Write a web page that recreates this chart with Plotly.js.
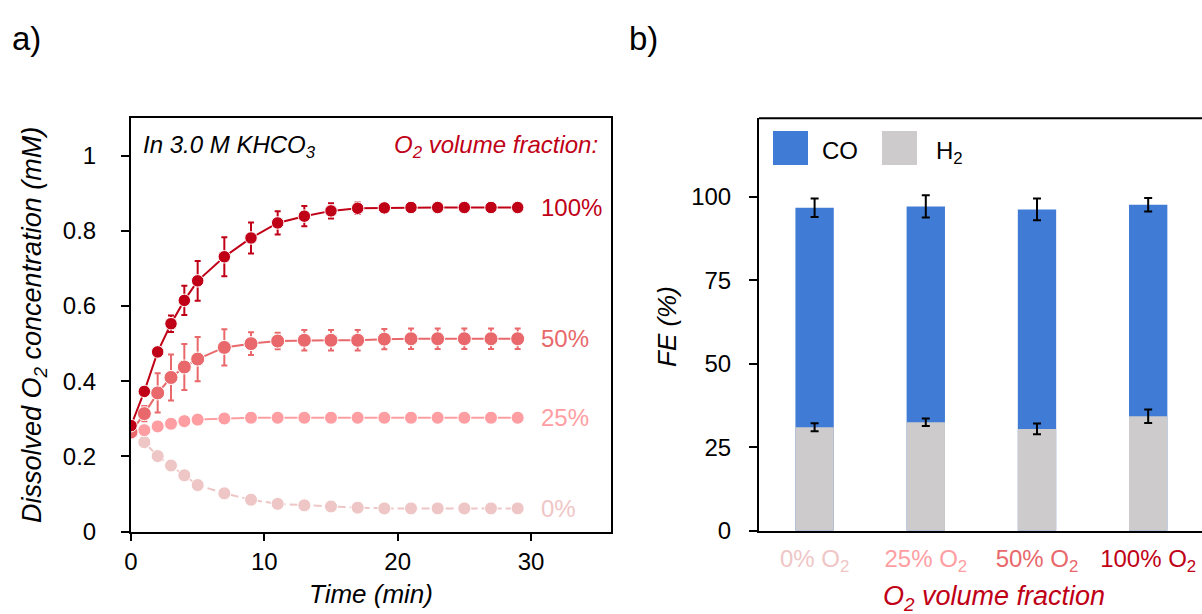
<!DOCTYPE html>
<html>
<head>
<meta charset="utf-8">
<script src="https://cdn.plot.ly/plotly-3.0.1.min.js"></script>
<style>html,body{margin:0;padding:0;background:#fff;}#chart{width:1202px;height:614px;}</style>
</head>
<body>
<div id="chart"></div>
<script>
// ---- Panel a: dissolved O2 vs time ----
const time = [0,1,2,3,4,5,7,9,11,13,15,17,19,21,23,25,27,29];
const o2_100 = [0.282,0.373,0.478,0.553,0.615,0.667,0.731,0.781,0.821,0.839,0.853,0.860,0.861,0.862,0.862,0.862,0.862,0.862];
const o2_100_err = [0.010,0.012,0.012,0.022,0.039,0.053,0.052,0.041,0.031,0.027,0.020,0.015,0.010,0.010,0.010,0.010,0.010,0.010];
const o2_50 = [0.265,0.314,0.369,0.410,0.438,0.459,0.490,0.500,0.507,0.509,0.509,0.509,0.512,0.513,0.513,0.513,0.513,0.513];
const o2_50_err = [0.010,0.020,0.052,0.061,0.061,0.059,0.048,0.030,0.022,0.027,0.027,0.027,0.027,0.027,0.027,0.027,0.027,0.027];
const o2_25 = [0.265,0.270,0.280,0.287,0.294,0.298,0.301,0.303,0.303,0.303,0.303,0.303,0.303,0.303,0.303,0.303,0.303,0.303];
const o2_0 = [0.266,0.238,0.201,0.176,0.150,0.124,0.102,0.085,0.074,0.070,0.067,0.064,0.062,0.062,0.062,0.062,0.062,0.062];
const seriesLabels = ['100%','50%','25%','0%'];
const seriesColors = ['#C00016','#E8686B','#FF9EA2','#EFC6C6'];

// ---- Panel b: Faradaic efficiency ----
const fractions = ['0% O<sub>2</sub>','25% O<sub>2</sub>','50% O<sub>2</sub>','100% O<sub>2</sub>'];
const fracColors = ['#EFC6C6','#FF9EA2','#E8686B','#C00016'];
const feH2 = [31.0, 32.5, 30.5, 34.3];
const feH2_err = [1.2, 1.1, 1.6, 2.0];
const feCO = [65.8, 64.7, 65.8, 63.4];
const feTotal_err = [2.75, 3.35, 3.25, 2.0];

const W = 1202, H = 614;
const px = x => x / W;
const py = y => 1 - y / H;
const FONT = 'Liberation Sans, Arial, sans-serif';
const BLUE = '#407CD6', GRAY = '#CDCBCB';

const lineSeries = [o2_100, o2_50, o2_25, o2_0];
const lineErrs = [o2_100_err, o2_50_err, null, null];
const markerSizes = [12.5, 14, 13, 13];
const traces = [];
// draw lightest first, darkest on top
for (let k = 3; k >= 0; k--) {
  const t = {
    type: 'scatter', mode: 'lines+markers', x: time, y: lineSeries[k],
    xaxis: 'x', yaxis: 'y', showlegend: false, name: seriesLabels[k],
    line: {color: seriesColors[k], width: 2, dash: k === 3 ? '8px,4px' : 'solid'},
    marker: {color: seriesColors[k], size: markerSizes[k], line: {color: '#fff', width: 1}}
  };
  if (lineErrs[k]) t.error_y = {type: 'data', array: lineErrs[k], visible: true, color: seriesColors[k], thickness: 2, width: 3};
  traces.push(t);
}
const feTotal = feCO.map((v, i) => v + feH2[i]);
traces.push({
  type: 'bar', x: [0,1,2,3], y: feTotal, xaxis: 'x2', yaxis: 'y2', name: 'CO', showlegend: false,
  marker: {color: BLUE, line: {width: 0}}, width: 0.345,
  error_y: {type: 'data', array: feTotal_err, visible: true, color: '#000', thickness: 2, width: 4}
});
traces.push({
  type: 'bar', x: [0,1,2,3], y: feH2, xaxis: 'x2', yaxis: 'y2', name: 'H2', showlegend: false,
  marker: {color: GRAY, line: {width: 0}}, width: 0.345,
  error_y: {type: 'data', array: feH2_err, visible: true, color: '#000', thickness: 2, width: 4}
});

const tickFont = {family: FONT, size: 24, color: '#000'};
const layout = {
  width: W, height: H, margin: {l: 0, r: 0, t: 0, b: 0},
  paper_bgcolor: '#fff', plot_bgcolor: '#fff', barmode: 'overlay', showlegend: false,
  font: {family: FONT, color: '#000'},
  xaxis: {
    domain: [px(131), px(611)], range: [0, 36], tickvals: [0,10,20,30], ticktext: ['0','10','20','30'],
    showline: true, linecolor: '#000', linewidth: 2, mirror: true, ticks: 'outside', ticklen: 7, tickwidth: 2,
    tickcolor: '#000', showgrid: false, zeroline: false, tickfont: tickFont, anchor: 'y', fixedrange: true,
    ticklabelstandoff: 0
  },
  yaxis: {
    domain: [py(531.7), py(118)], range: [0, 1.1], tickvals: [0,0.2,0.4,0.6,0.8,1], ticktext: ['0','0.2','0.4','0.6','0.8','1'],
    showline: true, linecolor: '#000', linewidth: 2, mirror: true, ticks: 'outside', ticklen: 8, tickwidth: 2,
    tickcolor: '#000', showgrid: false, zeroline: false, tickfont: tickFont, anchor: 'x', fixedrange: true,
    ticklabelstandoff: 20
  },
  xaxis2: {
    domain: [px(759), 1], range: [-0.5, 3.484], tickvals: [0,1,2,3],
    ticktext: fractions.map((f, i) => `<span style="color:${fracColors[i]}">${f}</span>`),
    showline: true, linecolor: '#000', linewidth: 2, ticks: '', showgrid: false, zeroline: false,
    tickfont: tickFont, anchor: 'y2', fixedrange: true, ticklabelstandoff: 5
  },
  yaxis2: {
    domain: [py(530.7), py(118.3)], range: [0, 123.6], tickvals: [0,25,50,75,100],
    showline: true, linecolor: '#000', linewidth: 2, ticks: 'outside', ticklen: 8, tickwidth: 2,
    tickcolor: '#000', showgrid: false, zeroline: false, tickfont: tickFont, anchor: 'x2', fixedrange: true,
    ticklabelstandoff: 13
  },
  shapes: [
    {type: 'line', xref: 'x2 domain', yref: 'y2 domain', x0: 0, x1: 1, y0: 1, y1: 1, line: {color: '#000', width: 2}},
    {type: 'rect', xref: 'paper', yref: 'paper', x0: px(773), x1: px(808), y0: py(165), y1: py(131), fillcolor: BLUE, line: {width: 0}},
    {type: 'rect', xref: 'paper', yref: 'paper', x0: px(882), x1: px(917), y0: py(165), y1: py(131), fillcolor: GRAY, line: {width: 0}}
  ],
  annotations: [
    {text: 'a)', x: px(10), y: py(38), xref: 'paper', yref: 'paper', xanchor: 'left', yanchor: 'middle', showarrow: false, font: {family: FONT, size: 33, color: '#000'}},
    {text: 'b)', x: px(627), y: py(38), xref: 'paper', yref: 'paper', xanchor: 'left', yanchor: 'middle', showarrow: false, font: {family: FONT, size: 33, color: '#000'}},
    {text: '<i>In 3.0 M KHCO<sub>3</sub></i>', x: px(141), y: py(146), xref: 'paper', yref: 'paper', xanchor: 'left', yanchor: 'middle', showarrow: false, font: {family: FONT, size: 24, color: '#000'}},
    {text: '<i>O<sub>2</sub> volume fraction:</i>', x: px(600), y: py(146), xref: 'paper', yref: 'paper', xanchor: 'right', yanchor: 'middle', showarrow: false, font: {family: FONT, size: 24, color: '#C00016'}},
    {text: '<i>Dissolved O<sub>2</sub> concentration (mM)</i>', x: px(34), y: py(325), xref: 'paper', yref: 'paper', xanchor: 'center', yanchor: 'middle', textangle: -90, showarrow: false, font: {family: FONT, size: 27, color: '#000'}},
    {text: '<i>Time (min)</i>', x: px(371), y: py(594), xref: 'paper', yref: 'paper', xanchor: 'center', yanchor: 'middle', showarrow: false, font: {family: FONT, size: 26, color: '#000'}},
    {text: '<i>FE (%)</i>', x: px(667), y: py(326), xref: 'paper', yref: 'paper', xanchor: 'center', yanchor: 'middle', textangle: -90, showarrow: false, font: {family: FONT, size: 26, color: '#000'}},
    {text: '<i>O<sub>2</sub> volume fraction</i>', x: px(994), y: py(598), xref: 'paper', yref: 'paper', xanchor: 'center', yanchor: 'middle', showarrow: false, font: {family: FONT, size: 27, color: '#C00016'}},
    {text: 'CO', x: px(820), y: py(150), xref: 'paper', yref: 'paper', xanchor: 'left', yanchor: 'middle', showarrow: false, font: {family: FONT, size: 24, color: '#000'}},
    {text: 'H<sub>2</sub>', x: px(934), y: py(152), xref: 'paper', yref: 'paper', xanchor: 'left', yanchor: 'middle', showarrow: false, font: {family: FONT, size: 24, color: '#000'}}
  ]
};
// series end labels, placed at the last data point of each curve
const lastIdx = time.length - 1;
lineSeries.forEach((s, k) => {
  layout.annotations.push({
    text: seriesLabels[k], x: time[lastIdx] + 1.6, y: s[lastIdx], xref: 'x', yref: 'y',
    xanchor: 'left', yanchor: 'middle', showarrow: false, font: {family: FONT, size: 24, color: seriesColors[k]}
  });
});
Plotly.newPlot('chart', traces, layout, {staticPlot: true, displayModeBar: false});
</script>
</body>
</html>
